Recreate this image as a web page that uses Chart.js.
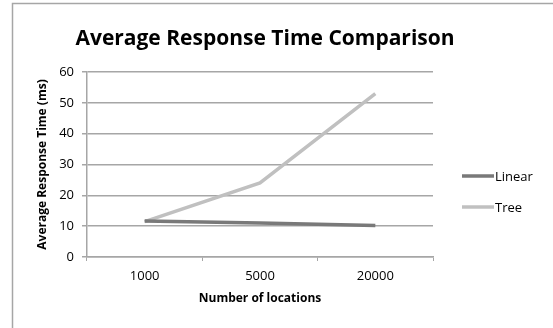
<!DOCTYPE html>
<html>
<head>
<meta charset="utf-8">
<script src="https://cdn.jsdelivr.net/npm/chart.js"></script>
<style>
  html, body { margin: 0; padding: 0; background: #fff; }
  #wrap { width: 553px; height: 328px; position: relative; }
</style>
</head>
<body>
<div id="wrap"><canvas id="chartResponse" width="553" height="328"></canvas></div>
<script>
// Values
const categories = ['1000', '5000', '20000'];
const linearTimes = [11.7, 11.0, 10.2];
const treeTimes = [11.5, 24.0, 53.0];
const yTicks = [0, 10, 20, 30, 40, 50, 60];

const FONT = '"Open Sans", "Noto Sans", sans-serif';

// Frame, title and legend drawn around the plot
const decor = {
    id: 'decor',
    beforeDraw(chart) {
        const ctx = chart.ctx;
        ctx.save();
        ctx.fillStyle = '#fff';
        ctx.fillRect(0, 0, chart.width, chart.height);
        ctx.strokeStyle = '#a6a6a6';
        ctx.lineWidth = 1.5;
        ctx.strokeRect(12.5, 3.5, 700, 500);
        ctx.restore();
    },
    afterDraw(chart) {
        const ctx = chart.ctx;
        ctx.save();
        ctx.fillStyle = '#000';
        ctx.font = 'bold 21px ' + FONT;
        ctx.textAlign = 'center';
        ctx.textBaseline = 'middle';
        ctx.fillText('Average Response Time Comparison', 265, 39);

        // legend
        const rows = [176, 207];
        ctx.font = '13px ' + FONT;
        ctx.textAlign = 'left';
        chart.data.datasets.forEach((ds, i) => {
            const y = rows[i];
            ctx.strokeStyle = ds.borderColor;
            ctx.lineWidth = ds.borderWidth;
            ctx.beginPath();
            ctx.moveTo(462, y);
            ctx.lineTo(494, y);
            ctx.stroke();
            ctx.fillStyle = '#000';
            ctx.fillText(ds.label, 495, y + 1);
        });
        ctx.restore();
    }
};

new Chart(document.getElementById('chartResponse').getContext('2d'), {
    type: 'line',
    data: {
        labels: categories,
        datasets: [
            { label: 'Linear', data: linearTimes, borderColor: '#797979', borderWidth: 3.5, pointRadius: 0, tension: 0 },
            { label: 'Tree', data: treeTimes, borderColor: '#c0c0c0', borderWidth: 3.5, pointRadius: 0, tension: 0 }
        ]
    },
    options: {
        responsive: false,
        animation: false,
        devicePixelRatio: 1,
        layout: { padding: { top: 72, right: 120, bottom: 0, left: 0 } },
        plugins: { legend: { display: false }, title: { display: false }, tooltip: { enabled: false } },
        scales: {
            x: {
                offset: true,
                grid: { offset: true, drawOnChartArea: false, drawTicks: true, tickLength: 4, color: '#a6a6a6' },
                border: { color: '#a6a6a6', width: 1.5 },
                ticks: { color: '#000', font: { family: FONT, size: 13 }, padding: 7, maxRotation: 0, autoSkip: false },
                title: { display: true, text: 'Number of locations', color: '#000', font: { family: FONT, size: 12, weight: 'bold' }, padding: { top: 0, bottom: 22 } },
                afterFit(scale) { scale.height = 71; }
            },
            y: {
                min: 0, max: 60,
                afterBuildTicks(scale) { scale.ticks = yTicks.map(v => ({ value: v })); },
                grid: { color: '#a6a6a6', lineWidth: 1.5, tickLength: 5 },
                border: { color: '#a6a6a6', width: 1.5 },
                ticks: { color: '#000', font: { family: FONT, size: 13 }, padding: 8 },
                title: { display: true, text: 'Average Response Time (ms)', color: '#000', font: { family: FONT, size: 12, weight: 'bold' }, padding: { top: 35, bottom: 0 } },
                afterFit(scale) { scale.width = 87; }
            }
        }
    },
    plugins: [decor]
});
</script>
</body>
</html>
